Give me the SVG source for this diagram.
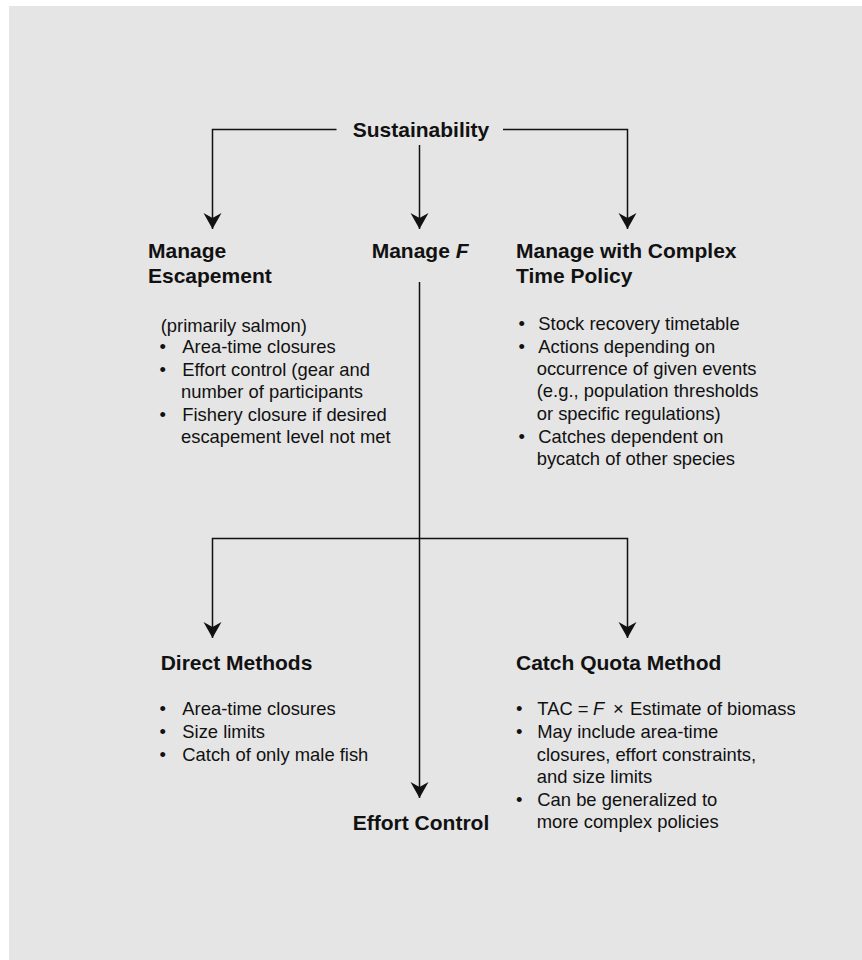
<svg xmlns="http://www.w3.org/2000/svg" width="862" height="960" viewBox="0 0 862 960">
<style>
.h{font-family:"Liberation Sans",Arial,sans-serif;font-weight:bold;font-size:21px;fill:#111}
.b{font-family:"Liberation Sans",Arial,sans-serif;font-size:18.4px;fill:#111}
.c{fill:none;stroke:#111;stroke-width:1.5}
</style>
<defs>
<marker id="ah" viewBox="-17 -10 18 20" refX="0" refY="0" markerWidth="18" markerHeight="20" markerUnits="userSpaceOnUse" orient="auto">
<path d="M0,0 L-16,-9 L-11,0 L-16,9 Z" fill="#111"/>
</marker>
</defs>
<rect x="0" y="0" width="862" height="960" fill="#fff"/>
<rect x="9" y="6" width="853" height="954" fill="#e5e5e5"/>
<g id="connectors">
<path class="c" d="M336.5,129.5 H212.5 V229" marker-end="url(#ah)"/>
<path class="c" d="M503,129.5 H627.5 V229" marker-end="url(#ah)"/>
<path class="c" d="M419.5,145 V229" marker-end="url(#ah)"/>
<path class="c" d="M419.5,282 V798" marker-end="url(#ah)"/>
<path class="c" d="M419.5,538.5 H212.5 V638" marker-end="url(#ah)"/>
<path class="c" d="M419.5,538.5 H627.5 V638" marker-end="url(#ah)"/>
</g>
<g id="sustainability"><text class="h" x="421" y="136.5" text-anchor="middle">Sustainability</text></g>
<g id="manage-escapement">
<text class="h" x="148" y="258">Manage</text>
<text class="h" x="148" y="283">Escapement</text>
<text class="b" x="160.7" y="331.7">(primarily salmon)</text>
<text class="b" x="162.7" y="353.3" text-anchor="middle">•</text><text class="b" x="182.3" y="353.3">Area-time closures</text>
<text class="b" x="162.7" y="376" text-anchor="middle">•</text><text class="b" x="182.3" y="376">Effort control (gear and</text>
<text class="b" x="181" y="398.3">number of participants</text>
<text class="b" x="162.7" y="421" text-anchor="middle">•</text><text class="b" x="182.3" y="421">Fishery closure if desired</text>
<text class="b" x="181" y="443.3">escapement level not met</text>
</g>
<g id="manage-f"><text class="h" x="371.7" y="258">Manage <tspan font-style="italic">F</tspan></text></g>
<g id="manage-complex">
<text class="h" x="516" y="258">Manage with Complex</text>
<text class="h" x="516" y="283">Time Policy</text>
<text class="b" x="521.7" y="329.5" text-anchor="middle">•</text><text class="b" x="538.3" y="329.5">Stock recovery timetable</text>
<text class="b" x="521.7" y="352.5" text-anchor="middle">•</text><text class="b" x="538.3" y="352.5">Actions depending on</text>
<text class="b" x="536.7" y="374.5">occurrence of given events</text>
<text class="b" x="536.7" y="397">(e.g., population thresholds</text>
<text class="b" x="536.7" y="420">or specific regulations)</text>
<text class="b" x="521.7" y="443" text-anchor="middle">•</text><text class="b" x="538.3" y="443">Catches dependent on</text>
<text class="b" x="536.7" y="465">bycatch of other species</text>
</g>
<g id="direct-methods">
<text class="h" x="160.7" y="670">Direct Methods</text>
<text class="b" x="162.7" y="715" text-anchor="middle">•</text><text class="b" x="182.3" y="715">Area-time closures</text>
<text class="b" x="162.7" y="738.3" text-anchor="middle">•</text><text class="b" x="182.3" y="738.3">Size limits</text>
<text class="b" x="162.7" y="760.7" text-anchor="middle">•</text><text class="b" x="182.3" y="760.7">Catch of only male fish</text>
</g>
<g id="effort-control"><text class="h" x="421" y="830" text-anchor="middle">Effort Control</text></g>
<g id="catch-quota">
<text class="h" x="516" y="670">Catch Quota Method</text>
<text class="b" x="519.3" y="715" text-anchor="middle">•</text><text class="b" x="537.3" y="715">TAC = <tspan x="593" font-style="italic">F</tspan><tspan x="613">×</tspan><tspan x="630">Estimate of biomass</tspan></text>
<text class="b" x="519.3" y="738.3" text-anchor="middle">•</text><text class="b" x="537.3" y="738.3">May include area-time</text>
<text class="b" x="536.7" y="760.7">closures, effort constraints,</text>
<text class="b" x="536.7" y="782.7">and size limits</text>
<text class="b" x="519.3" y="806" text-anchor="middle">•</text><text class="b" x="537.3" y="806">Can be generalized to</text>
<text class="b" x="536.7" y="828.3">more complex policies</text>
</g>
</svg>
